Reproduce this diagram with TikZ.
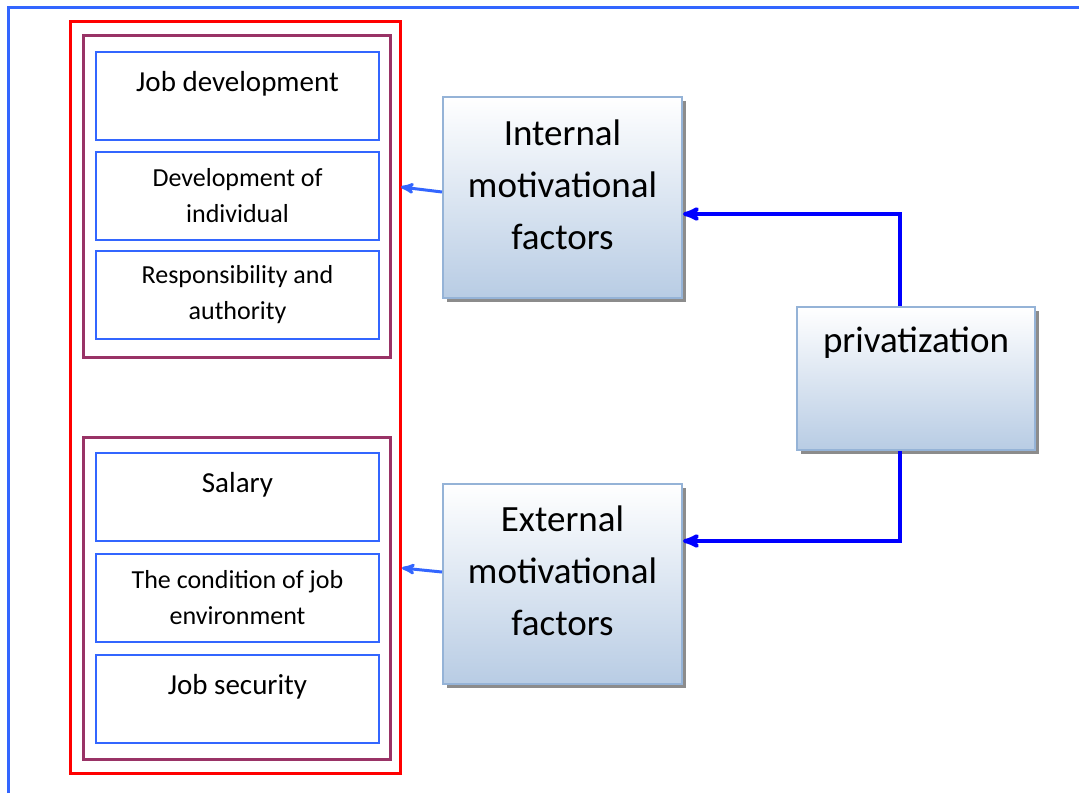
\documentclass[tikz,border=0pt]{standalone}
\usepackage{fontspec}
\setmainfont{Carlito}
\usetikzlibrary{arrows,shadows}

\definecolor{frameblue}{RGB}{51,102,255}
\definecolor{groupred}{RGB}{255,0,0}
\definecolor{subpurple}{RGB}{153,51,102}
\definecolor{factorborder}{RGB}{149,179,215}
\definecolor{factorfill}{RGB}{184,204,228}
\definecolor{linkblue}{RGB}{0,0,255}

\begin{document}
\begin{tikzpicture}[x=1pt,y=-1pt,>=stealth',
  group node/.style={rectangle,draw=groupred,line width=3pt,minimum width=330pt,minimum height=752pt,inner sep=0pt},
  sub node/.style={rectangle,draw=subpurple,line width=3pt,minimum width=307pt,minimum height=322pt,inner sep=0pt},
  item node/.style={rectangle,draw=frameblue,line width=2pt,minimum width=283pt,minimum height=88pt,inner sep=0pt,
    align=center,font=\fontsize{26}{36}\selectfont},
  top item/.style={item node,font=\fontsize{29}{40}\selectfont,text depth=29pt},
  factor node/.style={rectangle,draw=factorborder,line width=2pt,top color=white,bottom color=factorfill,
    minimum width=239pt,inner sep=0pt,align=center,font=\fontsize{37}{52}\selectfont,
    drop shadow={shadow xshift=4pt,shadow yshift=-4pt,fill=black!45,opacity=1}},
  small arrow/.style={->,draw=frameblue,line width=3pt},
  link arrow/.style={->,draw=linkblue,line width=4pt}]

  \useasboundingbox (0,0) rectangle (1079,793);
  \draw[frameblue,line width=3pt] (8,793) -- (8,7) -- (1079,7);

  % left column
  \node[group node] (grp) at (235,397) {};
  \node[sub node] (intsub) at (236.5,196) {};
  \node[sub node] (extsub) at (236.5,598.5) {};

  \node[top item] (jobdev) at (237.5,96) {Job development};
  \node[item node] (devind) at (237.5,196) {Development of\\individual};
  \node[item node] (resp) at (237.5,295) {Responsibility and\\authority};

  \node[top item] (salary) at (237.5,497) {Salary};
  \node[item node] (cond) at (237.5,598) {The condition of job\\environment};
  \node[top item] (jobsec) at (237.5,699) {Job security};

  % factors
  \node[factor node,minimum height=201pt,text depth=26pt] (int) at (562.5,197.5) {Internal\\motivational\\factors};
  \node[factor node,minimum height=200pt,text depth=26pt] (ext) at (562.5,584) {External\\motivational\\factors};
  \node[factor node,minimum width=238pt,minimum height=143pt,text depth=77pt] (priv) at (916,378.5) {privatization};

  \coordinate (inttip) at (401,187);
  \coordinate (exttip) at (402,568);

  \draw[small arrow] ([yshift=5.5pt]int.west) -- (inttip);
  \draw[small arrow] ([yshift=12pt]ext.west) -- (exttip);

  \draw[link arrow] ([xshift=-16pt]priv.north) |- ([yshift=-16.5pt]int.east);
  \draw[link arrow] ([xshift=-16pt]priv.south) |- ([yshift=43pt]ext.east);

\end{tikzpicture}
\end{document}
